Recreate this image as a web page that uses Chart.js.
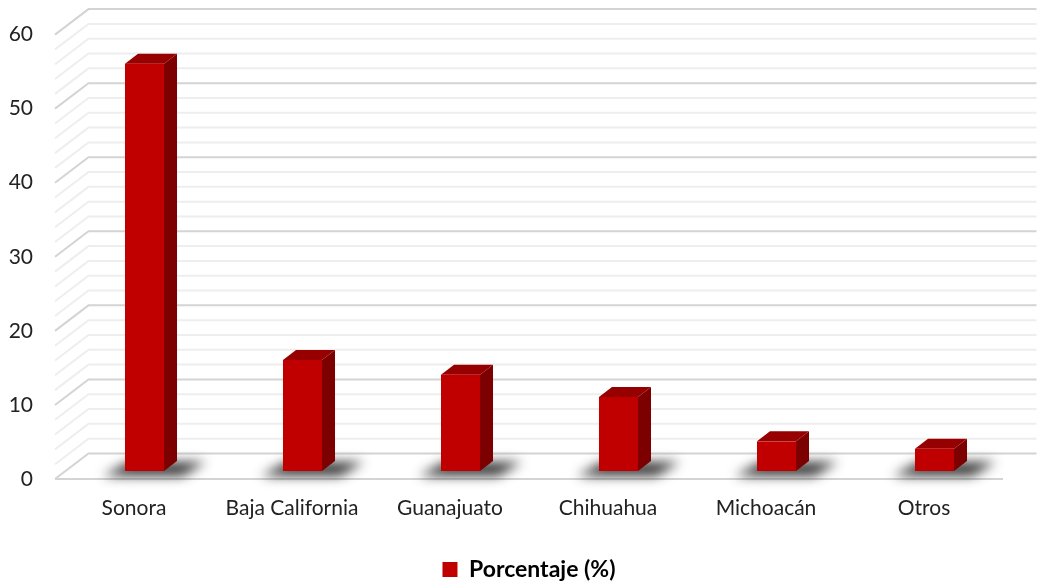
<!DOCTYPE html>
<html>
<head>
<meta charset="utf-8">
<script src="https://cdn.jsdelivr.net/npm/chart.js@4.4.0/dist/chart.umd.min.js"></script>
<style>
  html, body { margin: 0; padding: 0; background: #fff; }
  #wrap { width: 1041px; height: 586px; }
</style>
</head>
<body>
<div id="wrap"><canvas id="grafico" width="1041" height="586"></canvas></div>
<script>
// --- Datos ---
const estados = ['Sonora', 'Baja California', 'Guanajuato', 'Chihuahua', 'Michoacán', 'Otros'];
const porcentaje = [55, 15, 13, 10, 4, 3];
const serieNombre = 'Porcentaje (%)';
const ejeMin = 0;
const ejeMax = 60;
const pasoEtiquetas = 10;
const pasoMenor = 2;

// profundidad de la perspectiva 3D
const FONDO_DX = 33.5, FONDO_DY = -25.5;   // pared del fondo
const BARRA_DX = 10.5, BARRA_DY = -8;      // cara frontal de la barra
const LADO_DX = 13, LADO_DY = -10;         // grosor de la barra

const efecto3D = {
  id: 'efecto3D',
  beforeDatasetsDraw(chart) {
    const ctx = chart.ctx;
    const y = chart.scales.y;
    const a = chart.chartArea;
    ctx.save();
    ctx.lineCap = 'butt';
    for (let v = ejeMin; v <= ejeMax; v += pasoMenor) {
      const yf = y.getPixelForValue(v);
      const yb = yf + FONDO_DY;
      const mayor = v % pasoEtiquetas === 0;
      ctx.strokeStyle = mayor ? '#d4d4d4' : '#eeeeee';
      ctx.lineWidth = 2;
      ctx.beginPath();
      ctx.moveTo(a.left, yf);
      ctx.lineTo(a.left + FONDO_DX, yb);
      ctx.lineTo(a.right + FONDO_DX, yb);
      ctx.stroke();
    }
    // borde frontal del piso
    const y0 = y.getPixelForValue(0);
    ctx.strokeStyle = '#d4d4d4';
    ctx.beginPath();
    ctx.moveTo(a.left, y0);
    ctx.lineTo(a.right, y0);
    ctx.stroke();
    ctx.restore();
  },
  afterDatasetsDraw(chart) {
    const ctx = chart.ctx;
    const meta = chart.getDatasetMeta(0);
    ctx.save();
    // sombras
    meta.data.forEach(bar => {
      const w = bar.width;
      const x0 = bar.x - w / 2 + BARRA_DX;
      const yb = bar.base + BARRA_DY;
      ctx.save();
      ctx.filter = 'blur(6px)';
      ctx.fillStyle = 'rgba(20,20,20,0.85)';
      ctx.beginPath();
      ctx.moveTo(x0 - 22, yb + 5);
      ctx.lineTo(x0 + w + 18, yb + 5);
      ctx.lineTo(x0 + w + 42, yb - 9);
      ctx.lineTo(x0 + 4, yb - 9);
      ctx.closePath();
      ctx.fill();
      ctx.restore();
    });
    // barras
    meta.data.forEach(bar => {
      const w = bar.width;
      const x0 = bar.x - w / 2 + BARRA_DX;
      const x1 = x0 + w;
      const yt = bar.y + BARRA_DY;
      const yb = bar.base + BARRA_DY;
      // lado
      ctx.fillStyle = '#7d0000';
      ctx.beginPath();
      ctx.moveTo(x1, yt);
      ctx.lineTo(x1 + LADO_DX, yt + LADO_DY);
      ctx.lineTo(x1 + LADO_DX, yb + LADO_DY);
      ctx.lineTo(x1, yb);
      ctx.closePath();
      ctx.fill();
      // tapa
      ctx.fillStyle = '#960000';
      ctx.beginPath();
      ctx.moveTo(x0, yt);
      ctx.lineTo(x0 + LADO_DX, yt + LADO_DY);
      ctx.lineTo(x1 + LADO_DX, yt + LADO_DY);
      ctx.lineTo(x1, yt);
      ctx.closePath();
      ctx.fill();
      // frente
      ctx.fillStyle = '#c00000';
      ctx.fillRect(x0, yt, w, yb - yt);
    });
    ctx.restore();
  }
};

const ctx = document.getElementById('grafico').getContext('2d');
const grafico = new Chart(ctx, {
  type: 'bar',
  data: {
    labels: estados,
    datasets: [{
      label: serieNombre,
      data: porcentaje,
      backgroundColor: 'rgba(0,0,0,0)',
      borderWidth: 0,
      categoryPercentage: 1,
      barPercentage: 0.247
    }]
  },
  options: {
    responsive: false,
    animation: false,
    layout: { padding: { top: 18, right: 38, left: 0, bottom: -5 } },
    scales: {
      x: {
        grid: { display: false, drawTicks: false },
        border: { display: false },
        ticks: { color: '#222', font: { family: 'Lato', size: 21 }, padding: 17, maxRotation: 0 },
        afterFit(scale) { scale.height = 63; }
      },
      y: {
        min: ejeMin,
        max: ejeMax,
        grid: { display: false, drawTicks: false },
        border: { display: false },
        ticks: { stepSize: pasoEtiquetas, color: '#222', font: { family: 'Lato', size: 21 }, padding: 22 },
        afterFit(scale) { scale.width = 55; }
      }
    },
    plugins: {
      legend: {
        position: 'bottom',
        fullSize: false,
        labels: {
          color: '#111',
          boxWidth: 15,
          boxHeight: 15,
          padding: 16,
          generateLabels() {
            return [{ text: serieNombre, fillStyle: '#c00000', strokeStyle: '#c00000', lineWidth: 0, datasetIndex: 0 }];
          },
          font: { family: 'Lato', size: 23, weight: 'bold' }
        }
      },
      tooltip: { enabled: false }
    }
  },
  plugins: [efecto3D]
});
</script>
</body>
</html>
